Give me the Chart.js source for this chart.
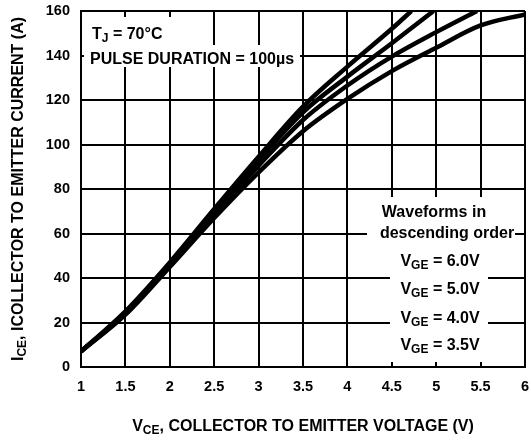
<!DOCTYPE html>
<html>
<head>
<meta charset="utf-8">
<script src="https://cdn.jsdelivr.net/npm/chart.js@4"></script>
<style>
  body { margin: 0; background: #fff; }
  #wrap { width: 531px; height: 443px; }
</style>
</head>
<body>
<div id="wrap"><canvas id="iceChart" width="531" height="443"></canvas></div>
<script>
  // V_CE (V) and I_CE (A), one pair per gate voltage
  const vge60V = [1, 1.5, 2, 2.5, 3, 3.5, 4, 4.5, 4.72];
  const vge60I = [7, 25, 47, 71, 94.5, 117, 135, 152, 160];

  const vge50V = [1, 1.5, 2, 2.5, 3, 3.5, 4, 4.5, 4.97];
  const vge50I = [7, 24.5, 46.5, 70, 93, 114.5, 130.5, 145.5, 160];

  const vge40V = [1, 1.5, 2, 2.5, 3, 3.5, 4, 4.5, 5, 5.46];
  const vge40I = [7, 24, 46, 68.5, 90.5, 111, 126.5, 139.5, 150.5, 160];

  const vge35V = [1, 1.5, 2, 2.5, 3, 3.5, 4, 4.5, 5, 5.5, 6];
  const vge35I = [7, 23.5, 45, 67, 87.5, 106, 120.5, 133, 143.5, 153.5, 158.5];

  const legendLines = ["6.0V", "5.0V", "4.0V", "3.5V"];

  const FONT = "'Liberation Sans', Arial, Helvetica, sans-serif";
  const NOTE_SIZE = 16;

  const toPoints = (xs, ys) => xs.map((x, i) => ({ x: x, y: ys[i] }));

  const curve = (label, xs, ys) => ({
    label: label,
    data: toPoints(xs, ys),
    showLine: true,
    borderColor: "#000",
    borderWidth: 4.5,
    pointRadius: 0,
    cubicInterpolationMode: "monotone",
    fill: false,
  });

  // draws text with subscripts; parts = [[text, isSub], ...]
  function drawParts(ctx, parts, x, y, size, align) {
    const subSize = Math.round(size * 0.72);
    let total = 0;
    parts.forEach(([t, sub]) => {
      ctx.font = "bold " + (sub ? subSize : size) + "px " + FONT;
      total += ctx.measureText(t).width;
    });
    let cx = align === "center" ? x - total / 2 : x;
    ctx.textAlign = "left";
    ctx.textBaseline = "middle";
    parts.forEach(([t, sub]) => {
      ctx.font = "bold " + (sub ? subSize : size) + "px " + FONT;
      ctx.fillText(t, cx, sub ? y + 4 : y);
      cx += ctx.measureText(t).width;
    });
  }

  const notes = {
    id: "notes",
    beforeDatasetsDraw(chart) {
      const ctx = chart.ctx;
      ctx.save();
      // white boxes that break the grid behind the text
      ctx.fillStyle = "#fff";
      ctx.fillRect(84, 17, 90, 32);
      ctx.fillRect(84, 45, 216, 22);
      ctx.fillRect(390, 197, 98, 165);
      ctx.fillRect(379, 201, 110, 22);
      ctx.fillRect(367, 223, 148, 22);

      ctx.fillStyle = "#000";
      drawParts(ctx, [["T", false], ["J", true], [" = 70°C", false]], 92, 35, NOTE_SIZE, "left");
      drawParts(ctx, [["PULSE DURATION = 100µs", false]], 90, 60, NOTE_SIZE, "left");

      drawParts(ctx, [["Waveforms in", false]], 434, 213, NOTE_SIZE, "center");
      drawParts(ctx, [["descending order", false]], 447, 234, NOTE_SIZE, "center");
      const ys = [262, 290, 319, 346];
      legendLines.forEach((v, i) => {
        drawParts(ctx, [["V", false], ["GE", true], [" = " + v, false]], 440, ys[i], NOTE_SIZE, "center");
      });
      ctx.restore();
    },
    afterDraw(chart) {
      const ctx = chart.ctx;
      const area = chart.chartArea;
      ctx.save();
      ctx.fillStyle = "#000";
      drawParts(ctx, [["V", false], ["CE", true], [", COLLECTOR TO EMITTER VOLTAGE (V)", false]],
        (area.left + area.right) / 2, 427, NOTE_SIZE, "center");
      ctx.translate(19, (area.top + area.bottom) / 2);
      ctx.rotate(-Math.PI / 2);
      drawParts(ctx, [["I", false], ["CE", true], [", ICOLLECTOR TO EMITTER CURRENT (A)", false]],
        0, 0, NOTE_SIZE, "center");
      ctx.restore();
    },
  };

  const canvas = document.getElementById("iceChart");
  const ctx = canvas.getContext("2d");

  const iceChart = new Chart(ctx, {
    type: "scatter",
    data: {
      datasets: [
        curve("VGE = 6.0V", vge60V, vge60I),
        curve("VGE = 5.0V", vge50V, vge50I),
        curve("VGE = 4.0V", vge40V, vge40I),
        curve("VGE = 3.5V", vge35V, vge35I),
      ],
    },
    options: {
      responsive: false,
      animation: false,
      layout: { padding: { top: 11, right: 6, left: 0, bottom: 0 } },
      plugins: {
        legend: { display: false },
        tooltip: { enabled: false },
      },
      scales: {
        x: {
          type: "linear",
          min: 1,
          max: 6,
          ticks: {
            stepSize: 0.5,
            padding: 11,
            color: "#000",
            font: { family: FONT, size: 14.5, weight: "bold" },
            callback: (v) => String(v),
          },
          grid: { color: "#000", lineWidth: 2, drawTicks: false },
          border: { color: "#000", width: 2 },
          afterFit: (scale) => {
            scale.height = 76;
            scale.paddingLeft = 0;
            scale.paddingRight = 0;
          },
        },
        y: {
          min: 0,
          max: 160,
          ticks: {
            stepSize: 20,
            padding: 11,
            color: "#000",
            font: { family: FONT, size: 14.5, weight: "bold" },
          },
          grid: { color: "#000", lineWidth: 2, drawTicks: false },
          border: { color: "#000", width: 2 },
          afterFit: (scale) => {
            scale.width = 81;
            scale.paddingTop = 0;
            scale.paddingBottom = 0;
          },
        },
      },
    },
    plugins: [notes],
  });
</script>
</body>
</html>
